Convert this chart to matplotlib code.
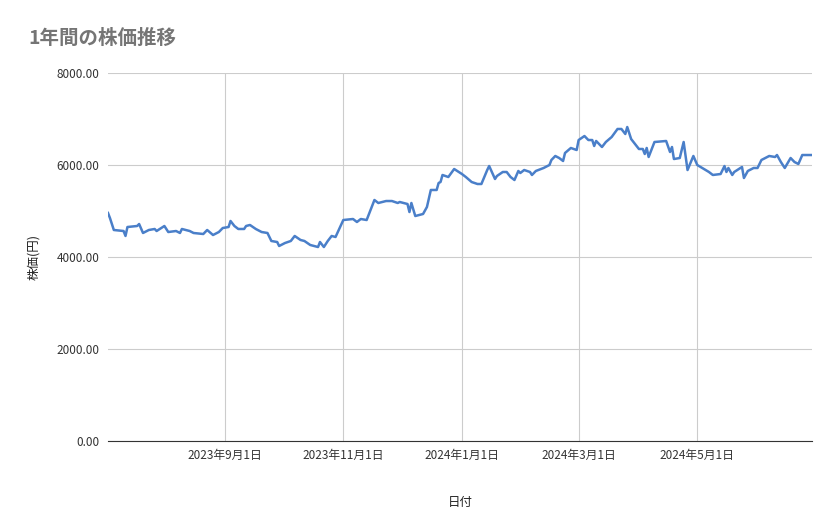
import matplotlib
matplotlib.use('Agg')
import matplotlib.pyplot as plt
import matplotlib.dates as mdates
import pandas as pd

plt.rcParams['font.family'] = ['Noto Sans CJK JP', 'DejaVu Sans']

dates = ['2023-07-03', '2023-07-04', '2023-07-06', '2023-07-11', '2023-07-12', '2023-07-13', '2023-07-18',
         '2023-07-19', '2023-07-21', '2023-07-24', '2023-07-27', '2023-07-28', '2023-08-01', '2023-08-03',
         '2023-08-07', '2023-08-09', '2023-08-10', '2023-08-14', '2023-08-16', '2023-08-21', '2023-08-23',
         '2023-08-26', '2023-08-29', '2023-08-31', '2023-09-03', '2023-09-04', '2023-09-06', '2023-09-08',
         '2023-09-11', '2023-09-12', '2023-09-14', '2023-09-17', '2023-09-20', '2023-09-23', '2023-09-25',
         '2023-09-28', '2023-09-29', '2023-10-02', '2023-10-05', '2023-10-07', '2023-10-10', '2023-10-12',
         '2023-10-15', '2023-10-19', '2023-10-20', '2023-10-22', '2023-10-24', '2023-10-26', '2023-10-28',
         '2023-11-01', '2023-11-06', '2023-11-08', '2023-11-10', '2023-11-13', '2023-11-17', '2023-11-19',
         '2023-11-23', '2023-11-26', '2023-11-29', '2023-11-30', '2023-12-04', '2023-12-05', '2023-12-06',
         '2023-12-08', '2023-12-12', '2023-12-14', '2023-12-16', '2023-12-19', '2023-12-20', '2023-12-21',
         '2023-12-22', '2023-12-25', '2023-12-28', '2024-01-01', '2024-01-03', '2024-01-06', '2024-01-09',
         '2024-01-11', '2024-01-14', '2024-01-15', '2024-01-18', '2024-01-19', '2024-01-22', '2024-01-24',
         '2024-01-26', '2024-01-28', '2024-01-30', '2024-01-31', '2024-02-02', '2024-02-05', '2024-02-06',
         '2024-02-08', '2024-02-12', '2024-02-15', '2024-02-16', '2024-02-18', '2024-02-20', '2024-02-22',
         '2024-02-23', '2024-02-26', '2024-02-29', '2024-03-01', '2024-03-04', '2024-03-06', '2024-03-08',
         '2024-03-09', '2024-03-10', '2024-03-13', '2024-03-15', '2024-03-18', '2024-03-21', '2024-03-23',
         '2024-03-25', '2024-03-26', '2024-03-28', '2024-04-01', '2024-04-03', '2024-04-04', '2024-04-05',
         '2024-04-06', '2024-04-09', '2024-04-15', '2024-04-17', '2024-04-18', '2024-04-19', '2024-04-22',
         '2024-04-24', '2024-04-26', '2024-04-29', '2024-05-01', '2024-05-07', '2024-05-09', '2024-05-13',
         '2024-05-15', '2024-05-16', '2024-05-17', '2024-05-19', '2024-05-20', '2024-05-24', '2024-05-25',
         '2024-05-27', '2024-05-30', '2024-06-01', '2024-06-03', '2024-06-07', '2024-06-10', '2024-06-11',
         '2024-06-13', '2024-06-15', '2024-06-18', '2024-06-20', '2024-06-22', '2024-06-24', '2024-06-27',
         '2024-06-29']
prices = [4957, 4848, 4587, 4565, 4457, 4652, 4674, 4717, 4522, 4587, 4609, 4565, 4674, 4543,
          4565, 4522, 4609, 4565, 4522, 4500, 4587, 4478, 4543, 4630, 4652, 4783, 4674, 4609,
          4609, 4674, 4696, 4609, 4543, 4522, 4348, 4326, 4239, 4304, 4348, 4457, 4370, 4348,
          4261, 4217, 4326, 4217, 4348, 4457, 4435, 4804, 4826, 4761, 4826, 4804, 5239, 5174,
          5217, 5217, 5174, 5196, 5152, 4978, 5174, 4891, 4935, 5087, 5457, 5457, 5609, 5630,
          5783, 5739, 5913, 5804, 5739, 5630, 5587, 5587, 5891, 5978, 5696, 5761, 5848, 5848,
          5739, 5674, 5870, 5826, 5891, 5848, 5783, 5870, 5935, 6000, 6109, 6196, 6152, 6087,
          6261, 6370, 6326, 6543, 6630, 6543, 6543, 6413, 6522, 6391, 6500, 6609, 6783, 6783,
          6674, 6826, 6565, 6348, 6348, 6239, 6370, 6174, 6500, 6522, 6283, 6391, 6130, 6152,
          6500, 5891, 6196, 6000, 5848, 5783, 5804, 5978, 5848, 5935, 5783, 5848, 5957, 5717,
          5870, 5935, 5935, 6109, 6196, 6174, 6217, 6065, 5935, 6152, 6065, 6022, 6217, 6217,
          6217]
tick_dates = ['2023-09-01', '2023-11-01', '2024-01-01', '2024-03-01', '2024-05-01']
tick_labels = ['2023年9月1日', '2023年11月1日', '2024年1月1日', '2024年3月1日', '2024年5月1日']
y_ticks = [0, 2000, 4000, 6000, 8000]

x = pd.to_datetime(dates)

fig = plt.figure(figsize=(8.39, 5.19), dpi=100)
ax = fig.add_axes([108 / 839, 1 - 441 / 519, (812 - 108) / 839, (441 - 73) / 519])
ax.plot(x, prices, color='#4a7fc9', linewidth=1.8)

ax.set_xlim(x[0], x[-1])
ax.set_ylim(0, 8000)
ax.set_xticks(pd.to_datetime(tick_dates))
ax.set_xticklabels(tick_labels)
ax.set_yticks(y_ticks)
ax.set_yticklabels([f'{v:.2f}' for v in y_ticks])
ax.grid(True, color='#cccccc', linewidth=0.8)
ax.tick_params(length=0, labelsize=8.5, colors='#333333', pad=6)
for side in ['top', 'right', 'left']:
    ax.spines[side].set_visible(False)
ax.spines['bottom'].set_color('#333333')

ax.set_xlabel('日付', fontsize=9, color='#222222', labelpad=24)
ax.set_ylabel('株価(円)', fontsize=9, color='#222222', labelpad=12)
fig.text(28 / 839, 1 - 38 / 519, '1年間の株価推移', fontsize=14, color='#757575',
         fontweight='bold', va='center')

fig.savefig('out.png', dpi=100)
